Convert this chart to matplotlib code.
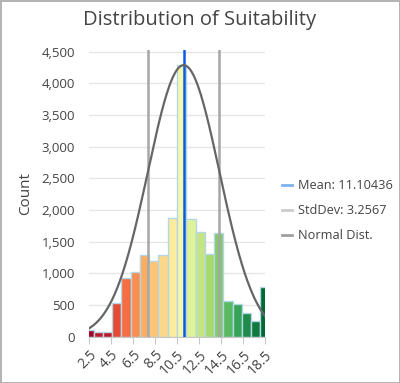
import numpy as np
import matplotlib.pyplot as plt
from matplotlib.lines import Line2D

# histogram of Suitability, 20 bins (first and last cut in half by the axis)
counts = [100, 80, 80, 530, 930, 1020, 1290, 1190, 1290, 1870,
          4300, 1860, 1650, 1310, 1640, 570, 510, 380, 250, 780]
bar_colors = ['#a50026', '#c0182a', '#c0182a', '#e54b34', '#f46d43', '#f98e52',
              '#fdad60', '#fec574', '#fed889', '#fdeb9e', '#f6f8ab', '#e0f297',
              '#c4e57f', '#a6d96a', '#84ca66', '#5ab961', '#37a356', '#1f8a49',
              '#0f7a3e', '#006837']
tick_vals = [2.5, 4.5, 6.5, 8.5, 10.5, 12.5, 14.5, 16.5, 18.5]
y_ticks = [0, 500, 1000, 1500, 2000, 2500, 3000, 3500, 4000, 4500]
mean = 11.10436
std = 3.2567
peak = 4290

plt.rcParams['font.family'] = ['Open Sans', 'DejaVu Sans']

fig = plt.figure(figsize=(4, 3.83), dpi=100)
fig.patch.set_edgecolor('#b4b4b4')
fig.patch.set_linewidth(2)
ax = fig.add_axes([0.2225, 0.121, 0.44, 0.7486])

lo, hi = tick_vals[0], tick_vals[-1]
w = (hi - lo) / (len(counts) - 1)
centers = lo + w * np.arange(len(counts))
ax.bar(centers, counts, width=w, color=bar_colors, edgecolor='#b3d7e6',
       linewidth=1, zorder=2)

ax.axvline(mean - std, color='#a6a6a6', lw=1.8, zorder=3)
ax.axvline(mean + std, color='#a6a6a6', lw=1.8, zorder=3)
ax.axvline(mean, color='#0a5ae6', lw=1.8, zorder=4)

xs = np.linspace(lo, hi, 300)
ax.plot(xs, peak * np.exp(-0.5 * ((xs - mean) / std) ** 2),
        color='#666666', lw=1.6, zorder=5)

ax.set_xlim(lo, hi)
ax.set_ylim(0, 4530)
ax.set_yticks(y_ticks)
ax.set_yticklabels([f'{v:,}' for v in y_ticks], fontsize=9.5, color='#444444')
ax.set_xticks(tick_vals)
ax.set_xticklabels([str(v) for v in tick_vals], rotation=45, ha='right',
                   rotation_mode='anchor', fontsize=10, color='#444444')
ax.tick_params(axis='y', length=0, pad=10)
ax.tick_params(axis='x', length=5, color='#c8c8c8', pad=3)
ax.grid(axis='y', color='#e6e6e6', lw=1, zorder=0)
ax.set_axisbelow(True)
for s in ['top', 'right', 'left']:
    ax.spines[s].set_visible(False)
ax.spines['bottom'].set_color('#c8c8c8')

ax.set_ylabel('Count', fontsize=11, color='#444444', labelpad=6)
fig.suptitle('Distribution of Suitability', x=0.5, y=0.975, fontsize=14.5,
             color='#444444')

handles = [Line2D([], [], color='#7fb0ee', lw=2),
           Line2D([], [], color='#cccccc', lw=2),
           Line2D([], [], color='#a0a0a0', lw=2)]
fig.legend(handles, ['Mean: 11.10436', 'StdDev: 3.2567', 'Normal Dist.'],
           loc='center left', bbox_to_anchor=(0.675, 0.45), frameon=False,
           fontsize=9.2, handlelength=0.8, handletextpad=0.5, labelspacing=0.95,
           labelcolor='#444444')

fig.savefig('out.png', dpi=100, edgecolor=fig.get_edgecolor())
